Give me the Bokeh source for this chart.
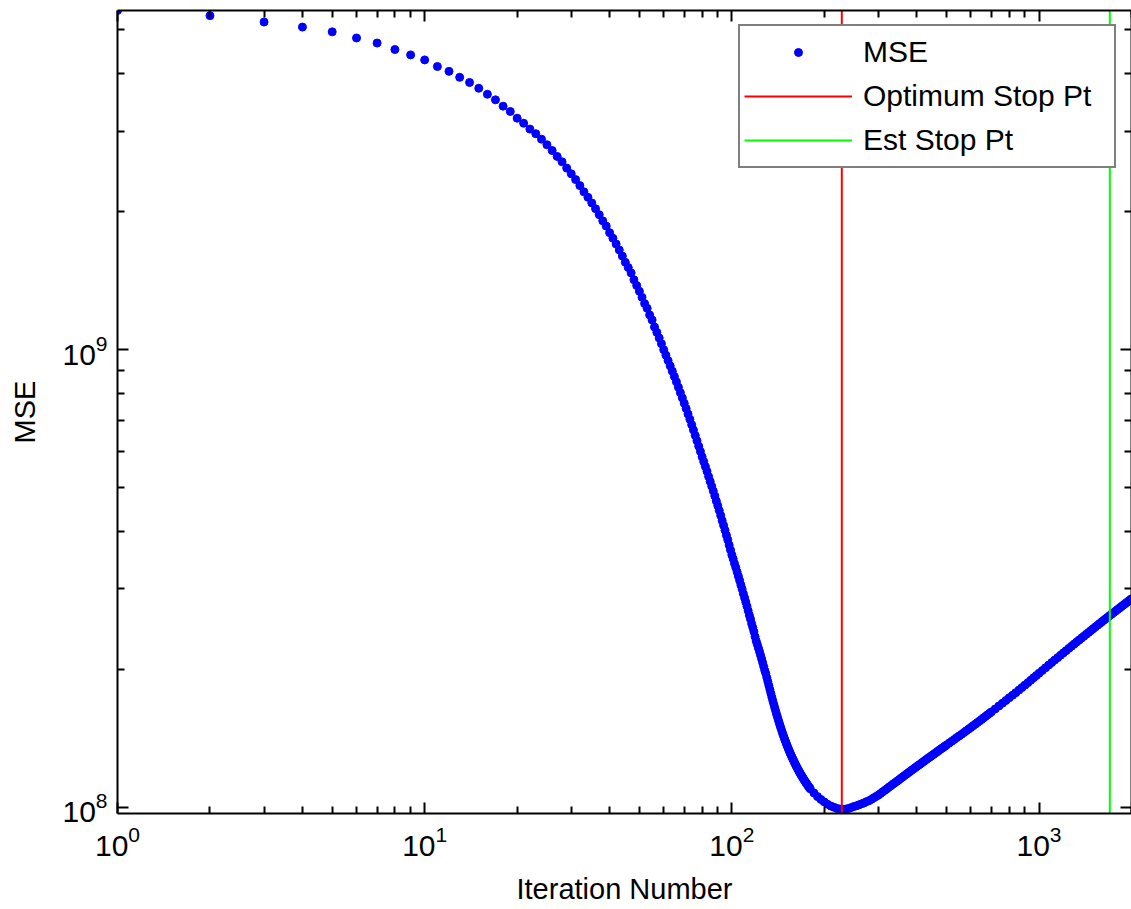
from bokeh.plotting import figure
from bokeh.models import (ColumnDataSource, Range1d, LogAxis, FixedTicker, Legend, LegendItem,
                          CustomJSTickFormatter)
from bokeh.embed import file_html
from bokeh.resources import INLINE

# ---------------- data ----------------
# iteration numbers at which MSE values were read
iterations = (list(range(1, 181)) + list(range(185, 501, 5))
              + list(range(510, 701, 10)) + list(range(720, 1001, 20)) + list(range(1025, 2001, 25)))

# MSE values in units of 1e8
mse_e8 = [
    # 1-20
    55.0, 53.6, 51.9, 50.6, 49.4, 47.9, 46.7, 45.2, 44.0, 42.9,
    41.5, 40.5, 39.3, 38.3, 37.2, 36.1, 35.1, 34.0, 33.1, 32.0,
    # 21-45
    31.2, 30.3, 29.6, 28.8, 28.0, 27.2, 26.4, 25.7, 24.9, 24.2,
    23.5, 22.8, 22.1, 21.5, 20.9, 20.3, 19.7, 19.1, 18.6, 18.0,
    17.5, 17.0, 16.5, 16.0, 15.5,
    # 46-60
    15.1, 14.7, 14.2, 13.8, 13.4, 13.0, 12.6, 12.3, 11.9, 11.6,
    11.2, 10.9, 10.6, 10.3, 9.99,
    # 61-80
    9.72, 9.46, 9.21, 8.97, 8.73, 8.50, 8.27, 8.05, 7.84, 7.63,
    7.43, 7.23, 7.04, 6.85, 6.67, 6.49, 6.32, 6.15, 5.99, 5.83,
    # 81-100
    5.69, 5.55, 5.42, 5.28, 5.15, 5.03, 4.91, 4.79, 4.67, 4.56,
    4.45, 4.34, 4.23, 4.13, 4.03, 3.93, 3.84, 3.74, 3.65, 3.56,
    # 101-120
    3.49, 3.41, 3.34, 3.27, 3.20, 3.13, 3.06, 3.00, 2.93, 2.87,
    2.81, 2.75, 2.69, 2.63, 2.58, 2.52, 2.47, 2.42, 2.36, 2.31,
    # 121-140
    2.27, 2.23, 2.19, 2.15, 2.11, 2.07, 2.03, 1.99, 1.96, 1.92,
    1.882, 1.845, 1.808, 1.774, 1.740, 1.708, 1.678, 1.649, 1.621, 1.594,
    # 141-160
    1.569, 1.545, 1.521, 1.499, 1.478, 1.458, 1.438, 1.420, 1.402, 1.386,
    1.369, 1.354, 1.340, 1.326, 1.312, 1.299, 1.287, 1.275, 1.264, 1.253,
    # 161-180
    1.242, 1.232, 1.222, 1.213, 1.203, 1.195, 1.186, 1.178, 1.170, 1.163,
    1.155, 1.148, 1.141, 1.134, 1.128, 1.122, 1.115, 1.109, 1.104, 1.098,
    # 185-300 (step 5)
    1.076, 1.056, 1.041, 1.028, 1.016, 1.007, 1.001, 0.995, 0.992, 0.991,
    0.992, 0.995, 1.000, 1.005, 1.009, 1.014, 1.019, 1.024, 1.030, 1.035,
    1.042, 1.050, 1.057, 1.064,
    # 305-500 (step 5)
    1.073, 1.082, 1.090, 1.099, 1.108, 1.116, 1.125, 1.133, 1.141, 1.149,
    1.158, 1.166, 1.174, 1.182, 1.190, 1.198, 1.206, 1.213, 1.221, 1.229,
    1.236, 1.243, 1.251, 1.258, 1.266, 1.273, 1.280, 1.287, 1.294, 1.301,
    1.308, 1.315, 1.322, 1.329, 1.336, 1.343, 1.349, 1.356, 1.362, 1.369,
    # 510-700 (step 10)
    1.382, 1.395, 1.408, 1.421, 1.433, 1.445, 1.458, 1.471, 1.483, 1.495,
    1.508, 1.520, 1.532, 1.544, 1.557, 1.569, 1.581, 1.593, 1.605, 1.617,
    # 720-1000 (step 20)
    1.641, 1.665, 1.689, 1.712, 1.736, 1.758, 1.781, 1.804, 1.827, 1.850,
    1.873, 1.896, 1.919, 1.941, 1.963,
    # 1025-2000 (step 25)
    1.991, 2.018, 2.046, 2.072, 2.099, 2.124, 2.150, 2.175, 2.200, 2.225,
    2.249, 2.273, 2.297, 2.320, 2.343, 2.366, 2.389, 2.411, 2.434, 2.456,
    2.478, 2.500, 2.521, 2.542, 2.564, 2.584, 2.604, 2.625, 2.645, 2.665,
    2.684, 2.704, 2.723, 2.743, 2.762, 2.780, 2.800, 2.818, 2.837, 2.855,
]
assert len(iterations) == len(mse_e8)

opt_stop = 228      # Optimum Stop Pt (iteration)
est_stop = 1700     # Est Stop Pt (iteration)

x_lo, x_hi = 1, 2000
y_lo, y_hi = 9.7e7, 5.5e9

x_major = [1, 10, 100, 1000]
y_major = [1e8, 1e9]

# ---------------- figure ----------------
FONT = "Liberation Sans"

p = figure(width=1131, height=909, x_axis_type="log", y_axis_type="log",
           x_range=Range1d(x_lo, x_hi), y_range=Range1d(y_lo, y_hi),
           output_backend="svg", toolbar_location=None,
           min_border_left=117, min_border_right=0, min_border_top=10, min_border_bottom=96)
p.outline_line_color = None
p.xgrid.visible = False
p.ygrid.visible = False
p.background_fill_color = "white"
p.border_fill_color = "white"

x_minor = [m * d for d in x_major for m in range(2, 10)] + [2000]
y_minor = [m * d for d in y_major for m in range(2, 10)]


def style_axis(ax):
    ax.axis_line_color = "black"
    ax.axis_line_width = 2
    ax.major_tick_line_color = "black"
    ax.minor_tick_line_color = "black"
    ax.major_tick_line_width = 2
    ax.minor_tick_line_width = 2
    ax.major_tick_in = 11
    ax.major_tick_out = 0
    ax.minor_tick_in = 7
    ax.minor_tick_out = 0
    ax.major_label_text_font = FONT
    ax.major_label_text_font_size = "30px"
    ax.major_label_text_color = "black"
    ax.axis_label_text_font = FONT
    ax.axis_label_text_font_size = "29px"
    ax.axis_label_text_font_style = "normal"
    ax.axis_label_text_color = "black"


xa = p.xaxis[0]
xa.ticker = FixedTicker(ticks=x_major, minor_ticks=x_minor)
xa.axis_label = "Iteration Number"
style_axis(xa)
xa.major_label_standoff = 12
xa.axis_label_standoff = 14

ya = p.yaxis[0]
ya.ticker = FixedTicker(ticks=y_major, minor_ticks=y_minor)
ya.axis_label = "MSE"
style_axis(ya)
ya.major_label_standoff = 10
ya.axis_label_standoff = 18

blank = CustomJSTickFormatter(code="return ''")

top_ax = LogAxis(ticker=FixedTicker(ticks=x_major, minor_ticks=x_minor), formatter=blank)
style_axis(top_ax)
top_ax.major_label_text_font_size = "1px"
top_ax.major_label_standoff = 0
p.add_layout(top_ax, "above")

right_ax = LogAxis(ticker=FixedTicker(ticks=y_major, minor_ticks=y_minor), formatter=blank)
style_axis(right_ax)
right_ax.major_label_text_font_size = "1px"
right_ax.major_label_standoff = 0
p.add_layout(right_ax, "right")

# ---------------- glyphs ----------------
src = ColumnDataSource(data=dict(x=iterations, y=[v * 1e8 for v in mse_e8]))
r_mse = p.scatter("x", "y", source=src, marker="circle", size=8,
                  fill_color="#0000FF", line_color="#0000FF", line_width=1)

r_opt = p.line(x=[opt_stop, opt_stop], y=[y_lo, y_hi], line_color="#FF0000", line_width=2)
r_est = p.line(x=[est_stop, est_stop], y=[y_lo, y_hi], line_color="#00FF00", line_width=2)

legend = Legend(items=[
    LegendItem(label="MSE", renderers=[r_mse]),
    LegendItem(label="Optimum Stop Pt", renderers=[r_opt]),
    LegendItem(label="Est Stop Pt", renderers=[r_est]),
], location=(621, 645))
legend.label_text_font = FONT
legend.label_text_font_size = "30px"
legend.label_text_color = "black"
legend.glyph_width = 108
legend.glyph_height = 20
legend.label_height = 44
legend.spacing = 0
legend.padding = 4
legend.margin = 0
legend.label_standoff = 11
legend.label_width = 247
legend.border_line_color = "black"
legend.border_line_width = 2
legend.background_fill_color = "white"
legend.background_fill_alpha = 1.0
p.add_layout(legend)

open("out.html", "w").write(file_html(p, INLINE))
